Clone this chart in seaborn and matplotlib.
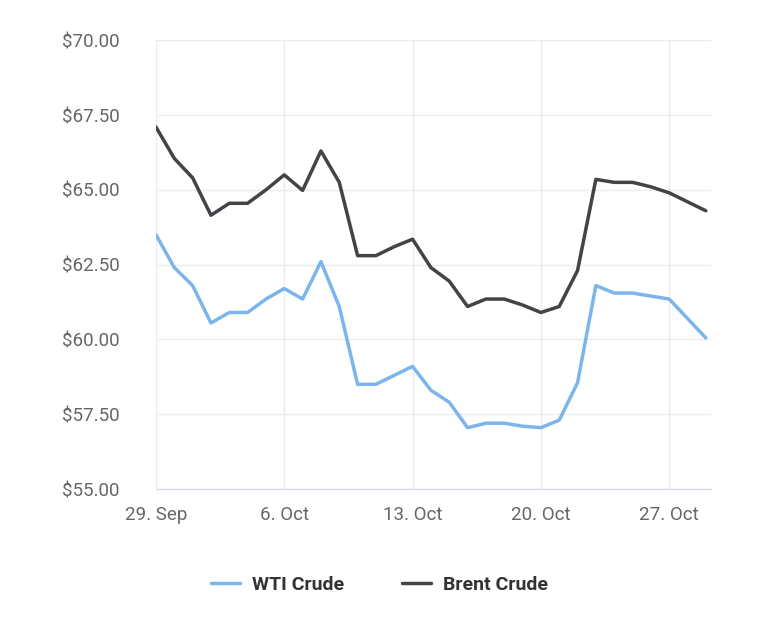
import pandas as pd
import matplotlib.pyplot as plt
import matplotlib.dates as mdates
import matplotlib.ticker as mticker
import seaborn as sns

dates = pd.date_range('2019-09-29', '2019-10-29', freq='D')
wti = [63.5, 62.4, 61.8, 60.55, 60.9, 60.9, 61.35, 61.7, 61.35, 62.6, 61.1,
       58.5, 58.5, 58.8, 59.1, 58.3, 57.9, 57.05, 57.2, 57.2, 57.1, 57.05,
       57.3, 58.55, 61.8, 61.55, 61.55, 61.45, 61.35, 60.7, 60.05]
brent = [67.1, 66.05, 65.4, 64.15, 64.55, 64.55, 65.0, 65.5, 64.98, 66.3, 65.25,
         62.8, 62.8, 63.1, 63.35, 62.4, 61.95, 61.1, 61.35, 61.35, 61.15, 60.9,
         61.1, 62.3, 65.35, 65.25, 65.25, 65.1, 64.9, 64.6, 64.3]

df = pd.DataFrame({'date': list(dates) * 2,
                   'price': wti + brent,
                   'series': ['WTI Crude'] * len(wti) + ['Brent Crude'] * len(brent)})

sns.set_style('white')
plt.rcParams['font.family'] = ['Roboto', 'DejaVu Sans']

fig = plt.figure(figsize=(7.59, 6.19), dpi=100)
ax = fig.add_axes([0.2055, 0.21, 0.7315, 0.725])
sns.lineplot(data=df, x='date', y='price', hue='series',
             palette={'WTI Crude': '#7cb5ec', 'Brent Crude': '#434348'},
             linewidth=2.5, ax=ax, legend=False)

ax.set_xlim(dates[0], dates[-1] + pd.Timedelta(hours=7))
ax.set_ylim(55, 70)
ax.yaxis.set_major_locator(mticker.MultipleLocator(2.5))
ax.yaxis.set_major_formatter(mticker.FuncFormatter(lambda v, p: f'${v:.2f}'))
ax.set_xticks(pd.date_range('2019-09-29', periods=5, freq='7D'))
ax.xaxis.set_major_formatter(mdates.DateFormatter('%-d. %b'))
ax.grid(True, color='#ececec', linewidth=1)
for s in ['top', 'right', 'left']:
    ax.spines[s].set_visible(False)
ax.spines['bottom'].set_color('#ccd6eb')
ax.tick_params(axis='x', length=8, color='#ccd6eb', labelsize=13.5, labelcolor='#666666', pad=4)
ax.tick_params(axis='y', length=0, labelsize=13.5, labelcolor='#666666', pad=26)
ax.set_xlabel('')
ax.set_ylabel('')

handles = [plt.Line2D([], [], color='#7cb5ec', lw=2.5),
           plt.Line2D([], [], color='#434348', lw=2.5)]
fig.legend(handles, ['WTI Crude', 'Brent Crude'], loc='center', bbox_to_anchor=(0.5, 0.055),
           ncol=2, frameon=False, handlelength=1.5, columnspacing=3, handletextpad=0.6,
           prop={'size': 14, 'weight': 'bold'}, labelcolor='#333333')

fig.savefig('out.png', dpi=100, facecolor='white')
